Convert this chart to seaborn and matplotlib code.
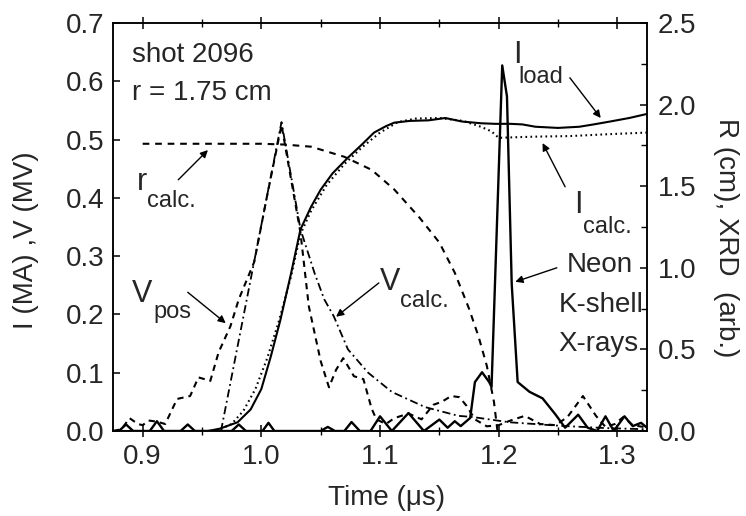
import matplotlib
matplotlib.use("Agg")
import matplotlib.pyplot as plt
from matplotlib.ticker import MultipleLocator
import numpy as np
import pandas as pd
import seaborn as sns

# ---- measured waveforms, shot 2096 ----
# load current (MA)
t_iload = [0.875, 0.955, 0.965, 0.980, 0.991, 1.000, 1.008, 1.016, 1.025, 1.033,
           1.042, 1.050, 1.060, 1.073, 1.085, 1.095, 1.105, 1.112, 1.125, 1.141,
           1.155, 1.169, 1.185, 1.197, 1.210, 1.220, 1.231, 1.250, 1.268, 1.280,
           1.294, 1.310, 1.325]
i_load = [0.000, 0.000, 0.004, 0.015, 0.037, 0.072, 0.128, 0.190, 0.270, 0.346,
          0.385, 0.414, 0.442, 0.469, 0.492, 0.512, 0.523, 0.529, 0.532, 0.533,
          0.537, 0.531, 0.528, 0.527, 0.527, 0.526, 0.522, 0.520, 0.522, 0.526,
          0.531, 0.537, 0.544]

# calculated current (MA)
t_icalc = [0.962, 0.975, 0.985, 0.995, 1.005, 1.015, 1.025, 1.033, 1.042, 1.055,
           1.070, 1.085, 1.100, 1.115, 1.130, 1.150, 1.170, 1.185, 1.194, 1.200,
           1.230, 1.260, 1.290, 1.325]
i_calc = [0.000, 0.012, 0.035, 0.072, 0.125, 0.190, 0.265, 0.338, 0.378, 0.422,
          0.458, 0.487, 0.512, 0.530, 0.536, 0.537, 0.532, 0.522, 0.514, 0.503,
          0.505, 0.506, 0.509, 0.512]

# positive-polarity voltage monitor (MV)
t_vpos = [0.875, 0.882, 0.889, 0.896, 0.900, 0.905, 0.912, 0.919, 0.929, 0.940,
          0.947, 0.957, 0.964, 0.974, 0.981, 0.994, 1.005, 1.017, 1.033, 1.040,
          1.050, 1.057, 1.063, 1.069, 1.078, 1.086, 1.093, 1.097, 1.105, 1.112,
          1.124, 1.135, 1.145, 1.152, 1.160, 1.167, 1.173, 1.180, 1.190, 1.200,
          1.210, 1.222, 1.235, 1.248, 1.258, 1.271, 1.282, 1.290, 1.298, 1.305,
          1.313, 1.325]
v_pos = [0.000, 0.003, 0.022, 0.012, 0.010, 0.018, 0.016, 0.012, 0.055, 0.060,
         0.092, 0.086, 0.135, 0.180, 0.226, 0.290, 0.405, 0.525, 0.340, 0.214,
         0.120, 0.075, 0.105, 0.125, 0.094, 0.089, 0.038, 0.020, 0.012, 0.022,
         0.030, 0.020, 0.045, 0.050, 0.060, 0.058, 0.043, 0.020, 0.008, 0.010,
         0.018, 0.026, 0.012, 0.010, 0.024, 0.060, 0.026, 0.007, 0.012, 0.024,
         0.010, 0.006]

# calculated voltage (MV)
t_vcalc = [0.966, 1.017, 1.033, 1.045, 1.053, 1.061, 1.073, 1.090, 1.110, 1.138,
           1.166, 1.178, 1.209, 1.251, 1.290, 1.325]
v_calc = [0.000, 0.530, 0.346, 0.270, 0.226, 0.197, 0.140, 0.100, 0.067, 0.041,
          0.026, 0.024, 0.015, 0.009, 0.005, 0.003]

# calculated radius (cm)
t_rcalc = [0.900, 0.950, 1.000, 1.020, 1.042, 1.070, 1.093, 1.112, 1.133, 1.150,
           1.163, 1.175, 1.183, 1.190, 1.196, 1.199]
r_calc = [1.760, 1.760, 1.760, 1.755, 1.742, 1.680, 1.600, 1.480, 1.310, 1.155,
          0.970, 0.750, 0.580, 0.400, 0.180, 0.000]

# neon K-shell x-ray diode signal (arb.)
t_xrd = [0.875, 0.880, 0.886, 0.892, 0.906, 0.912, 0.918, 0.932, 0.938, 0.944,
         0.975, 0.981, 0.987, 1.001, 1.006, 1.011, 1.050, 1.056, 1.062, 1.070,
         1.076, 1.083, 1.092, 1.100, 1.110, 1.124, 1.137, 1.150, 1.157, 1.163,
         1.168, 1.176, 1.180, 1.186, 1.192, 1.194, 1.203, 1.207, 1.211, 1.216,
         1.226, 1.237, 1.248, 1.256, 1.267, 1.275, 1.283, 1.290, 1.297, 1.306,
         1.313, 1.320, 1.325]
xrd = [0.00, 0.00, 0.04, 0.00, 0.00, 0.06, 0.00, 0.00, 0.04, 0.00,
       0.00, 0.04, 0.00, 0.00, 0.05, 0.00, 0.00, 0.025, 0.00, 0.00,
       0.055, 0.00, 0.00, 0.09, 0.00, 0.11, 0.00, 0.07, 0.02, 0.06,
       0.03, 0.08, 0.30, 0.36, 0.30, 0.27, 2.24, 2.05, 0.90, 0.30,
       0.24, 0.20, 0.10, 0.02, 0.10, 0.02, 0.00, 0.09, 0.00, 0.09,
       0.03, 0.05, 0.02]

x_ticks = [0.9, 1.0, 1.1, 1.2, 1.3]
left_ticks = [0.0, 0.1, 0.2, 0.3, 0.4, 0.5, 0.6, 0.7]
right_ticks = [0.0, 0.5, 1.0, 1.5, 2.0, 2.5]

sns.set_theme(style="white")
plt.rcParams["font.family"] = ["Liberation Sans", "DejaVu Sans"]
plt.rcParams["axes.linewidth"] = 1.1

W, H = 746, 516
fig = plt.figure(figsize=(W / 100, H / 100), dpi=100)
ax = fig.add_axes([113 / W, 1 - 431 / H, (647 - 113) / W, (431 - 23) / H])
ax2 = ax.twinx()

def frame(t, y):
    return pd.DataFrame({"t": t, "y": y})

lw = 1.5
sns.lineplot(data=frame(t_iload, i_load), x="t", y="y", ax=ax, color="black",
             lw=lw, estimator=None, sort=False, legend=False)
sns.lineplot(data=frame(t_icalc, i_calc), x="t", y="y", ax=ax, color="black",
             lw=lw, linestyle=(0, (0.8, 1.6)), estimator=None, sort=False, legend=False)
sns.lineplot(data=frame(t_vpos, v_pos), x="t", y="y", ax=ax, color="black",
             lw=lw, linestyle=(0, (3.0, 2.4)), estimator=None, sort=False, legend=False)
sns.lineplot(data=frame(t_vcalc, v_calc), x="t", y="y", ax=ax, color="black",
             lw=1.3, linestyle=(0, (4.5, 2.0, 1.0, 2.0)), estimator=None, sort=False,
             legend=False)
sns.lineplot(data=frame(t_rcalc, r_calc), x="t", y="y", ax=ax2, color="black",
             lw=lw, linestyle=(0, (3.2, 2.8)), estimator=None, sort=False, legend=False)
sns.lineplot(data=frame(t_xrd, xrd), x="t", y="y", ax=ax2, color="black",
             lw=1.7, estimator=None, sort=False, legend=False)

ax.set_xlim(0.875, 1.325)
ax.set_ylim(0, 0.7)
ax2.set_ylim(0, 2.5)
ax.set_xticks(x_ticks)
ax.set_xticklabels([f"{v:.1f}" for v in x_ticks])
ax.xaxis.set_minor_locator(MultipleLocator(0.05))
ax.set_yticks(left_ticks)
ax.set_yticklabels([f"{v:.1f}" for v in left_ticks])
ax2.set_yticks(right_ticks)
ax2.set_yticklabels([f"{v:.1f}" for v in right_ticks])
ax2.yaxis.set_minor_locator(MultipleLocator(0.25))
ax.set_xlabel("")
ax.set_ylabel("")
ax2.set_ylabel("")

fs = 20
ax.tick_params(axis="x", which="major", direction="inout", length=9, width=1.1,
               top=True, bottom=True, labelsize=fs, pad=5, color="black")
ax.tick_params(axis="x", which="minor", direction="inout", length=6, width=1.0,
               top=True, bottom=True, color="black")
ax.tick_params(axis="y", which="major", direction="in", length=5, width=1.1,
               left=True, right=False, labelsize=fs, pad=6, color="black")
ax2.tick_params(axis="y", which="major", direction="in", length=5, width=1.1,
                right=True, left=False, labelsize=fs, pad=8, color="black")
ax2.tick_params(axis="y", which="minor", direction="in", length=4, width=1.0,
                right=True, left=False, color="black")
for a in (ax, ax2):
    for s in a.spines.values():
        s.set_color("black")
        s.set_linewidth(1.1)

# axis titles
fig.text(387 / W, 1 - 498 / H, "Time (μs)", ha="center", va="center", fontsize=fs)
fig.text(26 / W, 1 - 240 / H, "I (MA) ,V (MV)", ha="center", va="center",
         rotation=90, fontsize=fs)
fig.text(726 / W, 1 - 238 / H, "R (cm), XRD  (arb.)", ha="center", va="center",
         rotation=270, fontsize=fs)

# shot information
ax.text(0.891, 0.633, "shot 2096", fontsize=fs, va="baseline")
ax.text(0.891, 0.568, "r = 1.75 cm", fontsize=fs, va="baseline")

big, small = 22, 17
arrow = dict(arrowstyle="-|>", color="black", lw=1.0, mutation_scale=11,
             shrinkA=0, shrinkB=0)

# r_calc
ax.text(0.895, 0.413, "r", fontsize=big, va="baseline")
ax.text(0.904, 0.384, "calc.", fontsize=small, va="baseline")
ax.annotate("", xy=(0.955, 0.482), xytext=(0.930, 0.431), arrowprops=arrow)

# V_pos
ax.text(0.891, 0.221, "V", fontsize=big, va="baseline")
ax.text(0.909, 0.194, "pos", fontsize=small, va="baseline")
ax.annotate("", xy=(0.970, 0.185), xytext=(0.938, 0.238), arrowprops=arrow)

# V_calc
ax.text(1.100, 0.242, "V", fontsize=big, va="baseline")
ax.text(1.117, 0.213, "calc.", fontsize=small, va="baseline")
ax.annotate("", xy=(1.063, 0.196), xytext=(1.099, 0.254), arrowprops=arrow)

# I_load
ax.text(1.212, 0.631, "I", fontsize=big, va="baseline")
ax.text(1.217, 0.597, "load", fontsize=small, va="baseline")
ax.annotate("", xy=(1.286, 0.537), xytext=(1.260, 0.606), arrowprops=arrow)

# I_calc
ax.text(1.264, 0.374, "I", fontsize=big, va="baseline")
ax.text(1.271, 0.340, "calc.", fontsize=small, va="baseline")
ax.annotate("", xy=(1.237, 0.494), xytext=(1.256, 0.419), arrowprops=arrow)

# x-ray diode
ax.text(1.313, 0.273, "Neon", fontsize=fs, ha="right", va="baseline")
ax.text(1.322, 0.204, "K-shell", fontsize=fs, ha="right", va="baseline")
ax.text(1.318, 0.138, "X-rays", fontsize=fs, ha="right", va="baseline")
ax.annotate("", xy=(1.214, 0.256), xytext=(1.249, 0.280), arrowprops=arrow)

fig.savefig("out.png", dpi=100, facecolor="white")
